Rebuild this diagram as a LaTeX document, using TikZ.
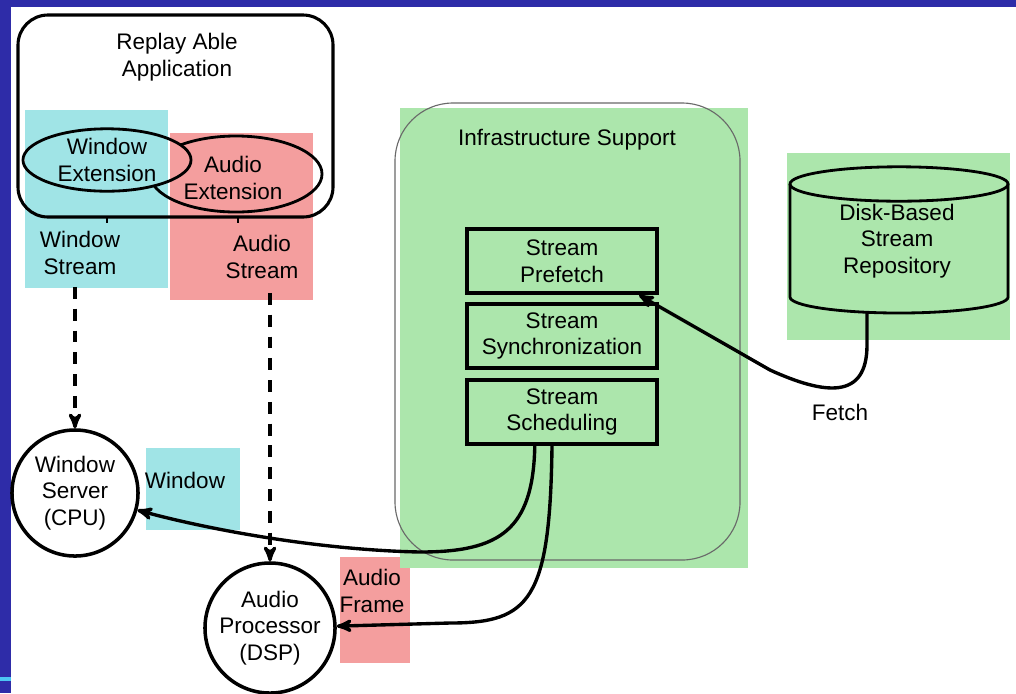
\documentclass[tikz,border=0pt]{standalone}
\usepackage{fontspec}
\setmainfont{Liberation Sans}
\usetikzlibrary{arrows}
\definecolor{slideblue}{RGB}{46,44,168}
\definecolor{hlcyan}{RGB}{160,228,230}
\definecolor{hlred}{RGB}{244,158,158}
\definecolor{hlgreen}{RGB}{172,230,172}
\definecolor{rimgray}{RGB}{105,105,105}

\begin{document}
\begin{tikzpicture}[x=0.025cm,y=-0.025cm]
\tikzset{txt/.style = {align=center,inner sep=0pt,font=\fontsize{16}{19}\selectfont}}
\tikzset{vertex/.style = {shape=circle,draw,line width=2.5pt,txt}}
\tikzset{stage/.style = {draw,line width=3pt,minimum width=4.75cm,minimum height=1.6cm,txt}}
\tikzset{edge/.style = {line width=2.4pt,-stealth'}}
\tikzset{flow/.style = {edge,dash pattern=on 8.5pt off 7pt}}

\useasboundingbox (0,0) rectangle (1016,693);
\fill[white] (0,0) rectangle (1016,693);
\fill[slideblue] (0,0) rectangle (11,693);
\fill[slideblue] (0,0) rectangle (1016,7);
\fill[cyan!70!white] (0,677) rectangle (11,681);

\fill[hlcyan] (25,110) rectangle (168,288);
\fill[hlred] (170,133) rectangle (313,300);
\fill[hlcyan] (146,448) rectangle (240,530);
\fill[hlred] (340,557) rectangle (410,663);
\fill[hlgreen] (400,108) rectangle (748,568);
\fill[hlgreen] (787,153) rectangle (1010,340);

\draw[line width=2.2pt,rounded corners=0.75cm] (18,15) rectangle (333,217);
\node[txt] (app) at (177,57) {Replay Able\\Application};
\node[txt] (wext) at (107,160) {Window\\Extension};
\node[txt] (aext) at (233,178) {Audio\\Extension};
\begin{scope}[even odd rule]
\clip (0,0) rectangle (1016,693) (wext) ellipse [x radius=2.1cm,y radius=0.78cm];
\draw[line width=2pt] (236,174) ellipse [x radius=2.15cm,y radius=0.95cm];
\end{scope}
\draw[line width=2pt] (wext) ellipse [x radius=2.1cm,y radius=0.78cm];
\draw[line width=2pt] (107,217) -- (107,223);
\draw[line width=2pt] (238,217) -- (238,223);

\node[txt] (wstream) at (80,253) {Window\\Stream};
\node[txt] (astream) at (262,257) {Audio\\Stream};

\node[vertex,minimum size=3.15cm] (wserver) at (75,493) {Window\\Server\\(CPU)};
\node[vertex,minimum size=3.25cm] (aproc) at (270,628) {Audio\\Processor\\(DSP)};

\draw[flow] ([yshift=-0.3cm]wserver.north |- wstream.south) -- (wserver);
\draw[flow] ([yshift=-0.35cm]aproc.north |- astream.south) -- (aproc);

\draw[rimgray,line width=0.8pt,rounded corners=1.45cm] (395,103) rectangle (740,560);
\node[txt] (infra) at (567,140) {Infrastructure Support};
\node[stage] (prefetch) at (562,261) {Stream\\Prefetch};
\node[stage] (sync) at (562,336) {Stream\\Synchronization};
\node[stage] (sched) at (562,412) {Stream\\Scheduling};

\draw[line width=2pt] (790,184) -- (790,297) arc[start angle=180,end angle=360,x radius=2.725cm,y radius=0.4cm] -- (1008,184);
\draw[line width=2pt] (899,184) ellipse [x radius=2.725cm,y radius=0.43cm];
\node[txt] (repo) at (897,241) {Disk-Based\\Stream\\Repository};
\coordinate (repobot) at (867,312);

\draw[edge] (repobot) -- (867,345) .. controls (867,400) and (825,395) .. (770,370) -- ([xshift=-0.5cm]prefetch.south east);
\node[txt] (fetch) at (840,412) {Fetch};

\draw[edge] ([xshift=-0.68cm]sched.south) .. controls (533,530) and (500,552) .. (420,552) .. controls (320,550) and (210,530) .. (wserver);
\node[txt] (wlbl) at (185,480) {Window};
\draw[edge] ([xshift=-0.25cm]sched.south) .. controls (550,600) and (530,623) .. (450,623) -- (aproc);
\node[txt] (albl) at (372,591) {Audio\\Frame};

\end{tikzpicture}
\end{document}
